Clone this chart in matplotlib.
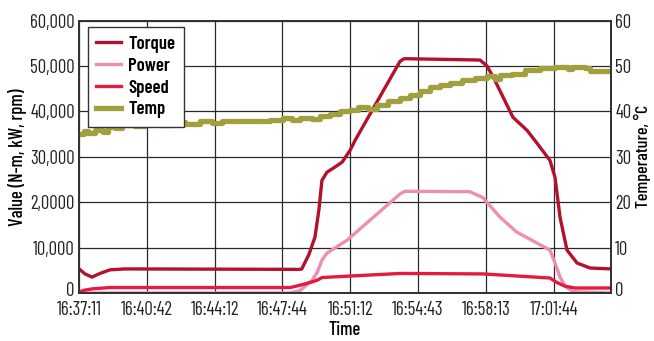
import matplotlib
matplotlib.use("Agg")
import matplotlib.pyplot as plt
from matplotlib.transforms import ScaledTranslation

plt.rcParams['font.family'] = ['Barlow Condensed', 'DejaVu Sans']

# time in minutes after 16:37:11
tick_pos = [0, 3.5, 7, 10.5, 14, 17.5, 21, 24.5]
tick_labels = ["16:37:11", "16:40:42", "16:44:12", "16:47:44",
               "16:51:12", "16:54:43", "16:58:13", "17:01:44"]
left_ticks = [0, 10000, 20000, 30000, 40000, 50000, 60000]
left_labels = ["0", "10,000", "2,0000", "30,000", "40,000", "50,000", "60,000"]

torque_t = [0.0, 0.31, 0.67, 1.08, 1.6, 2.37, 11.4, 11.5, 11.87, 12.18, 12.39,
            12.54, 12.8, 13.2, 13.58, 13.99, 14.25, 16.57, 16.78, 20.7, 21.06,
            21.47, 22.4, 23.13, 23.64, 24.31, 24.57, 24.83, 25.19, 25.71, 26.38, 27.46]
torque = [5300, 4200, 3500, 4300, 5100, 5300, 5200, 5300, 8500, 12300, 18500,
          24800, 26600, 27700, 28800, 31400, 33600, 51000, 51600, 51300, 50000,
          46800, 38700, 35800, 33000, 29200, 25500, 16700, 9450, 6600, 5500, 5300]

power_t = [0.0, 10.9, 11.4, 12.03, 12.29, 12.54, 12.8, 13.83, 16.57, 16.83,
           20.18, 20.85, 21.73, 22.6, 23.64, 24.31, 24.57, 24.83, 25.09, 25.5, 27.46]
power = [0, 0, 500, 2800, 4500, 7200, 8800, 11600, 21800, 22400,
         22300, 21000, 16700, 13400, 11000, 9450, 6600, 3500, 1500, 300, 0]

speed_t = [0.0, 0.26, 0.67, 1.6, 10.9, 11.4, 11.92, 12.29, 12.54, 12.96,
           16.57, 20.85, 24.31, 24.67, 25.09, 25.6, 27.46]
speed = [200, 600, 900, 1200, 1200, 1700, 2300, 2800, 3400, 3500,
         4300, 4200, 3300, 2300, 1500, 1100, 1100]

temp_t = [0.0, 0.26, 0.46, 0.83, 1.24, 1.5, 1.86, 2.22, 2.89, 3.41, 4.18, 4.8,
          5.47, 6.25, 6.87, 7.38, 8.83, 9.86, 10.53, 11.0, 11.41, 12.03, 12.44,
          12.96, 13.47, 13.99, 14.4, 14.92, 15.38, 15.95, 16.57, 17.09, 17.6,
          18.12, 18.64, 19.15, 19.77, 20.44, 21.06, 21.47, 21.73, 22.35, 23.02,
          23.8, 24.57, 25.24, 25.45, 26.12, 26.38, 27.46]
temp = [35.0, 35.6, 35.2, 35.8, 35.5, 36.5, 36.3, 37.0, 36.8, 37.3, 37.1, 37.6,
        37.3, 37.8, 37.4, 37.8, 37.9, 38.1, 38.6, 38.2, 38.5, 38.3, 38.9,
        39.5, 40.0, 40.4, 41.0, 40.6, 41.5, 42.2, 43.0, 43.6, 44.4,
        45.3, 45.8, 46.3, 46.9, 47.4, 47.8, 47.2, 48.0, 48.3, 49.0,
        49.5, 49.8, 49.3, 49.8, 49.6, 48.8, 48.8]

c_torque = "#b3122e"
c_power = "#ec8fb0"
c_speed = "#e31c3d"
c_temp = "#a29f3f"
grid_c = "#2a2a2a"

fig = plt.figure(figsize=(6.54, 3.41), dpi=100)
ax = fig.add_axes([0.1208, 0.1408, 0.8134, 0.799])
ax2 = ax.twinx()

l1, = ax.plot(torque_t, torque, color=c_torque, lw=2.4, solid_joinstyle="round", label="Torque")
l2, = ax.plot(power_t, power, color=c_power, lw=2.4, solid_joinstyle="round", label="Power")
l3, = ax.plot(speed_t, speed, color=c_speed, lw=2.4, solid_joinstyle="round", label="Speed")
l4, = ax2.plot(temp_t, temp, color=c_temp, lw=3.8, drawstyle="steps-post", label="Temp")

ax.set_xlim(0, 27.46)
ax.set_ylim(0, 60000)
ax2.set_ylim(0, 60)
ax.set_xticks(tick_pos)
ax.set_xticklabels(tick_labels)
ax.set_yticks(left_ticks)
ax.set_yticklabels(left_labels)
ax2.set_yticks(range(0, 61, 10))
ax.grid(True, color=grid_c, lw=0.9)
ax.set_axisbelow(True)

for a in (ax, ax2):
    for s in a.spines.values():
        s.set_color("#333333")
        s.set_linewidth(1.3)
    a.tick_params(length=0, labelsize=13.5, colors="#222222", pad=3)
ax.tick_params(axis="x", pad=6)

# lift the bottom "0" labels a little so they clear the time labels
shift = ScaledTranslation(0, 3 / 72, fig.dpi_scale_trans)
for lab in (ax.get_yticklabels()[0], ax2.get_yticklabels()[0]):
    lab.set_transform(lab.get_transform() + shift)

ax.set_xlabel("Time", fontsize=13.5, fontweight="medium", labelpad=1)
ax.set_ylabel("Value (N-m, kW, rpm)", fontsize=13.5, fontweight="medium", labelpad=2)
ax2.set_ylabel("Temperature, °C", fontsize=13, fontweight="medium", labelpad=2)

leg = ax2.legend(handles=[l1, l2, l3, l4], loc="upper left",
                 bbox_to_anchor=(0.017, 0.975), borderaxespad=0,
                 prop={"size": 13.5, "weight": "semibold"}, frameon=True,
                 fancybox=False, edgecolor="#333333", framealpha=1,
                 handlelength=1.3, handletextpad=0.4, labelspacing=0.25,
                 borderpad=0.45)
leg.get_frame().set_linewidth(1.0)

fig.savefig("out.png", dpi=100)
